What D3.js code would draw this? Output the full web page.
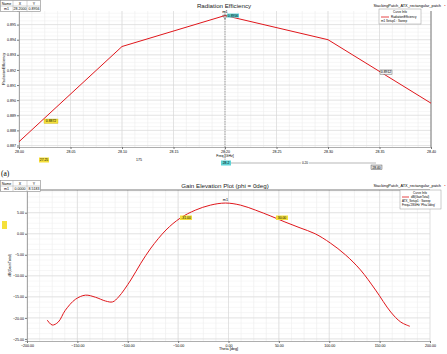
<!DOCTYPE html>
<html><head><meta charset="utf-8">
<script src="https://cdn.jsdelivr.net/npm/d3@7"></script>
<style>
body{margin:0;background:#fff;}
svg{display:block;font-family:"Liberation Sans",Arial,sans-serif;}
</style></head>
<body><svg id="c" width="447" height="354"></svg>
<script>
// ---- Data: top chart (Radiation Efficiency) ----
const effFreq = [28.0, 28.1, 28.2, 28.3, 28.4];
const effValues = [0.88725, 0.89355, 0.8956, 0.8940, 0.8898];
const effXTicks = [28.00, 28.05, 28.10, 28.15, 28.20, 28.25, 28.30, 28.35, 28.40];
const effYTicks = [0.887, 0.888, 0.889, 0.890, 0.891, 0.892, 0.893, 0.894, 0.895];
// ---- Data: bottom chart (Gain elevation) ----
const gainTheta = [-180,-175,-169,-162,-152,-142,-132,-122,-115,-109,-97,-87,-77,-62,-48,-33,-18,-3,12,27,42,56,71,86,101,116,131,146,161,171,180];
const gainDb = [-20.5,-21.7,-21,-18.2,-15.6,-14.6,-15.1,-16,-16.2,-15,-11,-7,-3.4,0.9,3.7,5.6,6.8,7.3,6.8,5.6,4.2,2.8,1.4,0,-2.2,-5,-8.6,-13.4,-18.6,-21,-22];
const gainXTicks = [-200,-150,-100,-50,0,50,100,150,200];
const gainYTicks = [5,0,-5,-10,-15,-20,-25];

const svg = d3.select("#c");
const fmt2 = d3.format(".2f"), fmt3 = d3.format(".3f");

function table(y0, x, yv){
  const g = svg.append("g");
  g.append("rect").attr("x",0.5).attr("y",y0+0.5).attr("width",40).attr("height",11).attr("fill","#fff").attr("stroke","#888").attr("stroke-width",0.6);
  g.append("line").attr("x1",0).attr("x2",40.5).attr("y1",y0+6).attr("y2",y0+6).attr("stroke","#aaa").attr("stroke-width",0.5);
  [13,27].forEach(v=>g.append("line").attr("x1",v).attr("x2",v).attr("y1",y0).attr("y2",y0+11.5).attr("stroke","#aaa").attr("stroke-width",0.5));
  const t=(tx,ty,s,a)=>g.append("text").attr("x",tx).attr("y",ty).attr("font-size",3.6).attr("text-anchor",a||"middle").text(s);
  t(6.5,y0+4.6,"Name");t(20,y0+4.6,"X");t(34,y0+4.6,"Y");
  t(6.5,y0+10.2,"m1");t(20,y0+10.2,x);t(34,y0+10.2,yv);
}

// ================= TOP CHART =================
{
  const L=19,R=431,T=11,B=147;
  const x=d3.scaleLinear().domain([28.0,28.4]).range([L,R]);
  const y=d3.scaleLinear().domain([0.8869,0.8959]).range([B,T]);
  const g=svg.append("g");
  g.selectAll(".vm").data(d3.range(28.0,28.4001,0.0125)).enter().append("line")
    .attr("x1",d=>x(d)).attr("x2",d=>x(d)).attr("y1",T).attr("y2",B).attr("stroke","#ececec").attr("stroke-width",0.6);
  g.selectAll(".hm").data(d3.range(0.8870,0.8959,0.00025)).enter().append("line")
    .attr("y1",d=>y(d)).attr("y2",d=>y(d)).attr("x1",L).attr("x2",R).attr("stroke","#eeeeee").attr("stroke-width",0.5);
  g.selectAll(".vM").data(effXTicks).enter().append("line")
    .attr("x1",d=>x(d)).attr("x2",d=>x(d)).attr("y1",T).attr("y2",B).attr("stroke","#d6d6d6").attr("stroke-width",0.6);
  g.selectAll(".hM").data(effYTicks).enter().append("line")
    .attr("y1",d=>y(d)).attr("y2",d=>y(d)).attr("x1",L).attr("x2",R).attr("stroke","#d6d6d6").attr("stroke-width",0.6);
  const xa=d3.axisBottom(x).tickValues(effXTicks).tickFormat(fmt2).tickSize(2).tickPadding(1);
  const ya=d3.axisLeft(y).tickValues(effYTicks).tickFormat(fmt3).tickSize(2).tickPadding(1);
  g.append("g").attr("transform",`translate(0,${B})`).call(xa).call(a=>{a.select(".domain").attr("stroke","#777").attr("stroke-width",0.6);a.selectAll("line").attr("stroke","#777");a.selectAll("text").attr("font-size",3.6).attr("font-family","Liberation Sans");});
  g.append("g").attr("transform",`translate(${L},0)`).call(ya).call(a=>{a.select(".domain").attr("stroke","#777").attr("stroke-width",0.6);a.selectAll("line").attr("stroke","#777");a.selectAll("text").attr("font-size",3.6).attr("font-family","Liberation Sans");});
  g.append("line").attr("x1",R).attr("x2",R).attr("y1",T).attr("y2",B).attr("stroke","#666").attr("stroke-width",0.8);
  g.append("text").attr("transform",`translate(5,${(T+B)/2-10}) rotate(-90)`).attr("font-size",3.8).attr("text-anchor","middle").text("RadiationEfficiency");
  g.append("text").attr("x",x(28.2)).attr("y",B+10).attr("font-size",3.6).attr("text-anchor","middle").text("Freq [GHz]");
  g.append("line").attr("x1",x(28.2)).attr("x2",x(28.2)).attr("y1",T).attr("y2",B+13).attr("stroke","#777").attr("stroke-width",0.6).attr("stroke-dasharray","1.5,1");
  const line=d3.line().x((d,i)=>x(effFreq[i])).y(d=>y(d));
  g.append("path").datum(effValues).attr("d",line).attr("fill","none").attr("stroke","#e0161b").attr("stroke-width",1);
  g.append("text").attr("x",x(28.2)).attr("y",y(0.8956)-3).attr("font-size",3.8).attr("text-anchor","middle").text("m1");
  g.append("path").attr("d",d3.symbol(d3.symbolTriangle,10)()).attr("transform",`translate(${x(28.2)},${y(0.8956)+1}) rotate(180)`).attr("fill","none").attr("stroke","#555").attr("stroke-width",0.5);
  g.append("rect").attr("x",x(28.2)+2).attr("y",y(0.8956)-2).attr("width",12).attr("height",4).attr("fill","#5fd3d6");
  g.append("text").attr("x",x(28.2)+8).attr("y",y(0.8956)+1.3).attr("font-size",3.4).attr("text-anchor","middle").text("0.8956");
  g.append("rect").attr("x",44).attr("y",119).attr("width",14).attr("height",4.5).attr("fill","#f5e03a").attr("stroke","#b9a000").attr("stroke-width",0.3);
  g.append("text").attr("x",51).attr("y",122.4).attr("font-size",3.4).attr("text-anchor","middle").text("0.8872");
  g.append("rect").attr("x",380).attr("y",70).attr("width",12).attr("height",4.5).attr("fill","#eee").attr("stroke","#555").attr("stroke-width",0.4);
  g.append("text").attr("x",386).attr("y",73.4).attr("font-size",3.4).attr("text-anchor","middle").text("0.8912");
  g.append("rect").attr("x",39).attr("y",157.5).attr("width",10).attr("height",5).attr("fill","#f5e03a");
  g.append("text").attr("x",44).attr("y",161.3).attr("font-size",3.4).attr("text-anchor","middle").text("27.25");
  g.append("text").attr("x",139).attr("y",160.5).attr("font-size",3.6).attr("text-anchor","middle").text("175");
  g.append("line").attr("x1",x(28.2)+6).attr("x2",376).attr("y1",163).attr("y2",163).attr("stroke","#999").attr("stroke-width",0.7);
  g.append("rect").attr("x",x(28.2)-4).attr("y",160.5).attr("width",10).attr("height",5).attr("fill","#5fd3d6");
  g.append("text").attr("x",x(28.2)+1).attr("y",164.2).attr("font-size",3.4).attr("text-anchor","middle").text("28.2");
  g.append("rect").attr("x",301).attr("y",161.5).attr("width",8).attr("height",3).attr("fill","#fff");
  g.append("text").attr("x",305).attr("y",164.2).attr("font-size",3.2).attr("text-anchor","middle").text("0.20");
  g.append("rect").attr("x",371).attr("y",165).attr("width",11).attr("height",4.5).attr("fill","#ddd").attr("stroke","#444").attr("stroke-width",0.4);
  g.append("text").attr("x",376.5).attr("y",168.5).attr("font-size",3.2).attr("text-anchor","middle").text("28.40");
  svg.append("text").attr("x",224).attr("y",8).attr("font-size",6.2).attr("text-anchor","middle").attr("fill","#222").text("Radiation Efficiency");
  svg.append("text").attr("x",441).attr("y",6.5).attr("font-size",3.9).attr("text-anchor","end").text("StackingPatch_ATX_rectangular_patch");
  svg.append("text").attr("x",445).attr("y",6.5).attr("font-size",3.9).attr("text-anchor","middle").attr("fill","#d22").text("•");
  const lg=svg.append("g");
  lg.append("rect").attr("x",379).attr("y",9).attr("width",42).attr("height",15).attr("fill","#fff").attr("stroke","#999").attr("stroke-width",0.5);
  lg.append("text").attr("x",400).attr("y",12.8).attr("font-size",3).attr("text-anchor","middle").text("Curve Info");
  lg.append("line").attr("x1",381).attr("x2",389).attr("y1",17).attr("y2",17).attr("stroke","#e0161b").attr("stroke-width",0.8);
  lg.append("text").attr("x",391).attr("y",18).attr("font-size",3).text("RadiationEfficiency");
  lg.append("text").attr("x",381).attr("y",22).attr("font-size",3).text("m1  Setup1 : Sweep");
  table(0,"28.2000","0.8956");
  svg.append("text").attr("x",1).attr("y",176).attr("font-size",7.5).attr("font-family","Liberation Serif").text("(a)");
}

// ================= BOTTOM CHART =================
{
  const L=27,R=430,T=190,B=341;
  const x=d3.scaleLinear().domain([-200,200]).range([L,R]);
  const y=d3.scaleLinear().domain([-25.5,10.4]).range([B,T]);
  const g=svg.append("g");
  g.selectAll(".vm").data(d3.range(-200,200.1,12.5)).enter().append("line")
    .attr("x1",d=>x(d)).attr("x2",d=>x(d)).attr("y1",T).attr("y2",B).attr("stroke","#ececec").attr("stroke-width",0.6);
  g.selectAll(".hm").data(d3.range(-25,10.1,1.25)).enter().append("line")
    .attr("y1",d=>y(d)).attr("y2",d=>y(d)).attr("x1",L).attr("x2",R).attr("stroke","#eeeeee").attr("stroke-width",0.5);
  g.selectAll(".vM").data(gainXTicks).enter().append("line")
    .attr("x1",d=>x(d)).attr("x2",d=>x(d)).attr("y1",T).attr("y2",B).attr("stroke","#d6d6d6").attr("stroke-width",0.6);
  g.selectAll(".hM").data(gainYTicks).enter().append("line")
    .attr("y1",d=>y(d)).attr("y2",d=>y(d)).attr("x1",L).attr("x2",R).attr("stroke","#d6d6d6").attr("stroke-width",0.6);
  const xa=d3.axisBottom(x).tickValues(gainXTicks).tickFormat(fmt2).tickSize(2).tickPadding(1);
  const ya=d3.axisLeft(y).tickValues(gainYTicks).tickFormat(fmt2).tickSize(2).tickPadding(1);
  g.append("g").attr("transform",`translate(0,${B})`).call(xa).call(a=>{a.select(".domain").attr("stroke","#777").attr("stroke-width",0.6);a.selectAll("line").attr("stroke","#777");a.selectAll("text").attr("font-size",3.6).attr("font-family","Liberation Sans");});
  g.append("g").attr("transform",`translate(${L},0)`).call(ya).call(a=>{a.select(".domain").attr("stroke","#777").attr("stroke-width",0.6);a.selectAll("line").attr("stroke","#777");a.selectAll("text").attr("font-size",3.6).attr("font-family","Liberation Sans");});
  g.append("line").attr("x1",0).attr("x2",R).attr("y1",T).attr("y2",T).attr("stroke","#555").attr("stroke-width",0.8);
  g.append("text").attr("transform",`translate(11,${(T+B)/2}) rotate(-90)`).attr("font-size",3.8).attr("text-anchor","middle").text("dB(GainTotal)");
  g.append("text").attr("x",x(0)).attr("y",B+9).attr("font-size",3.8).attr("text-anchor","middle").text("Theta [deg]");
  const line=d3.line().curve(d3.curveCatmullRom).x((d,i)=>x(gainTheta[i])).y(d=>y(d));
  g.append("path").datum(gainDb).attr("d",line).attr("fill","none").attr("stroke","#e0161b").attr("stroke-width",1);
  g.append("text").attr("x",x(-3)).attr("y",y(7.3)-2).attr("font-size",3.8).attr("text-anchor","middle").text("m1");
  g.append("rect").attr("x",180).attr("y",215.5).attr("width",12).attr("height",4.5).attr("fill","#f5e03a");
  g.append("text").attr("x",186).attr("y",219).attr("font-size",3.4).attr("text-anchor","middle").text("-31.00");
  g.append("rect").attr("x",276).attr("y",215.5).attr("width",12).attr("height",4.5).attr("fill","#f5e03a");
  g.append("text").attr("x",282).attr("y",219).attr("font-size",3.4).attr("text-anchor","middle").text("30.00");
  g.append("rect").attr("x",2).attr("y",221).attr("width",5).attr("height",8).attr("fill","#f5e03a");
  svg.append("text").attr("x",225).attr("y",187.5).attr("font-size",6.2).attr("text-anchor","middle").attr("fill","#222").text("Gain Elevation Plot  (phi = 0deg)");
  svg.append("text").attr("x",441).attr("y",187).attr("font-size",3.9).attr("text-anchor","end").text("StackingPatch_ATX_rectangular_patch");
  svg.append("text").attr("x",445).attr("y",187).attr("font-size",3.9).attr("text-anchor","middle").attr("fill","#d22").text("•");
  const lg=svg.append("g");
  lg.append("rect").attr("x",400).attr("y",190).attr("width",41).attr("height",19).attr("fill","#fff").attr("stroke","#999").attr("stroke-width",0.5);
  lg.append("text").attr("x",420).attr("y",193.5).attr("font-size",3).attr("text-anchor","middle").text("Curve Info");
  lg.append("line").attr("x1",402).attr("x2",409).attr("y1",197).attr("y2",197).attr("stroke","#e0161b").attr("stroke-width",0.8);
  lg.append("text").attr("x",411).attr("y",198).attr("font-size",3).text("dB(GainTotal)");
  lg.append("text").attr("x",402).attr("y",202).attr("font-size",3).text("ATX_Setup1 : Sweep");
  lg.append("text").attr("x",402).attr("y",206).attr("font-size",3).text("Freq='28GHz' Phi='0deg'");
  table(180,"0.0000","8.5183");
}
</script></body></html>
